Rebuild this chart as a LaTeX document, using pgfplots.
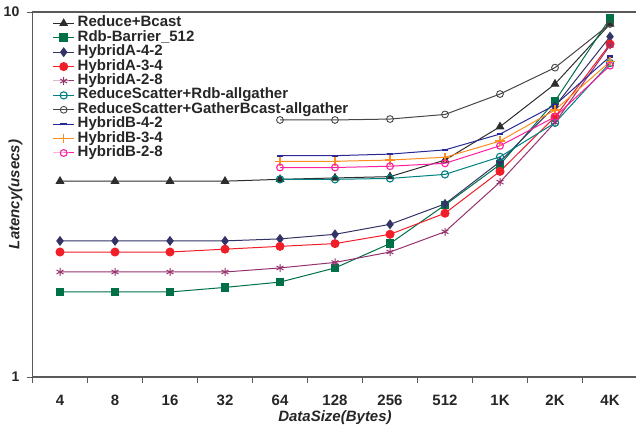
\documentclass[border=0pt]{standalone}
\usepackage{fontspec}
\setmainfont{Liberation Sans}
\usepackage{pgfplots}
\pgfplotsset{compat=1.18}

\definecolor{cBcast}{RGB}{45,45,45}
\definecolor{cRdb}{RGB}{0,112,70}
\definecolor{cA42}{RGB}{51,51,102}
\definecolor{cA34}{RGB}{240,30,40}
\definecolor{cA28}{RGB}{150,50,110}
\definecolor{cRSrdb}{RGB}{0,128,128}
\definecolor{cRSgb}{RGB}{70,70,70}
\definecolor{cB42}{RGB}{40,40,150}
\definecolor{cB34}{RGB}{255,140,30}
\definecolor{cB28}{RGB}{255,30,160}
\definecolor{cAxis}{RGB}{90,90,90}

\begin{document}
\begin{tikzpicture}
\begin{axis}[
  at={(0pt,0pt)}, anchor=south west,
  scale only axis, width=605pt, height=365pt,
  xmin=-0.5, xmax=10.5,
  ymode=log, ymin=1, ymax=10,
  axis lines=left,
  axis line style={-, draw=cAxis, line width=1.1pt},
  tick align=outside,
  xtick={0,...,10},
  xticklabels={4,8,16,32,64,128,256,512,1K,2K,4K},
  major x tick style={draw=none},
  minor xtick={-0.5,0.5,...,10.5},
  minor x tick style={draw=cAxis, line width=0.9pt},
  minor tick length=6pt,
  ytick={1,10}, yticklabels={1,10},
  minor ytick={},
  minor y tick style={draw=none},
  major y tick style={draw=cAxis, line width=0.9pt},
  major tick length=5pt,
  ymajorgrids,
  major grid style={draw=cAxis, line width=1.1pt},
  /pgf/number format/assume math mode=true,
  xticklabel style={font=\fontsize{15}{15}\selectfont\bfseries, color=black!85, anchor=center, yshift=-18pt},
  yticklabel style={font=\fontsize{14}{14}\selectfont\bfseries, color=black!85, anchor=east, inner sep=0pt, xshift=-8pt},
  xlabel={DataSize(Bytes)},
  ylabel={Latency(usecs)},
  xlabel style={font=\fontsize{15}{15}\selectfont\bfseries\itshape, color=black!85, at={(axis description cs:0.5,-41/365)}, anchor=center},
  ylabel style={font=\fontsize{15}{15}\selectfont\bfseries\itshape, color=black!85, at={(axis description cs:-17/605,0.5)}, anchor=center, rotate=0},
  legend cell align=left,
  legend style={
    at={(axis description cs:20/605,1-4/365)}, anchor=north west,
    draw=none, fill=none, inner sep=0pt, row sep=0pt,
    font=\fontsize{15}{15}\selectfont\bfseries,
    text=black!85,
    nodes={inner sep=0pt, text height=10.7pt, text depth=3.7pt},
    /tikz/every odd column/.append style={column sep=3pt},
  },
  legend image code/.code={\draw[mark repeat=2,mark phase=2,#1] plot coordinates {(0pt,0pt) (10.5pt,0pt) (21pt,0pt)};},
  every axis plot/.append style={line width=1pt},
  clip=false,
]

\addplot[cBcast, mark=triangle*, mark size=4.2pt, mark options={fill=cBcast}]
  coordinates {(0,3.44) (1,3.44) (2,3.44) (3,3.44) (4,3.48) (5,3.51) (6,3.54) (7,3.93) (8,4.85) (9,6.35) (10,9.27)};
\addlegendentry{Reduce+Bcast}

\addplot[cRdb, mark=square*, mark size=3.8pt, mark options={fill=cRdb}]
  coordinates {(0,1.71) (1,1.71) (2,1.71) (3,1.76) (4,1.82) (5,1.99) (6,2.32) (7,2.96) (8,3.82) (9,5.70) (10,9.61)};
\addlegendentry{Rdb-Barrier\_512}

\addplot[cA42, mark=diamond*, mark size=4.2pt, mark options={fill=cA42}]
  coordinates {(0,2.36) (1,2.36) (2,2.36) (3,2.36) (4,2.39) (5,2.46) (6,2.62) (7,2.98) (8,3.89) (9,5.52) (10,8.56)};
\addlegendentry{HybridA-4-2}

\addplot[cA34, mark=*, mark size=4pt, mark options={fill=cA34}]
  coordinates {(0,2.20) (1,2.20) (2,2.20) (3,2.24) (4,2.28) (5,2.32) (6,2.46) (7,2.81) (8,3.66) (9,5.16) (10,8.17)};
\addlegendentry{HybridA-3-4}

\addplot[cA28, mark=asterisk, mark size=4pt]
  coordinates {(0,1.94) (1,1.94) (2,1.94) (3,1.94) (4,1.99) (5,2.06) (6,2.20) (7,2.50) (8,3.42) (9,4.98) (10,8.10)};
\addlegendentry{HybridA-2-8}

\addplot[cRSrdb, mark=o, mark size=3.6pt, mark options={fill=white, line width=1.1pt}]
  coordinates {(4,3.48) (5,3.48) (6,3.50) (7,3.59) (8,4.01) (9,4.97) (10,7.25)};
\addlegendentry{ReduceScatter+Rdb-allgather}

\addplot[cRSgb, mark=o, mark size=3.4pt, mark options={fill=white, line width=0.9pt}]
  coordinates {(4,5.06) (5,5.06) (6,5.09) (7,5.24) (8,5.96) (9,7.04) (10,9.27)};
\addlegendentry{ReduceScatter+GatherBcast-allgather}

\addplot[cB42, mark=-, mark size=3.4pt, mark options={line width=2.2pt}]
  coordinates {(4,4.04) (5,4.04) (6,4.08) (7,4.19) (8,4.63) (9,5.56) (10,7.55)};
\addlegendentry{HybridB-4-2}

\addplot[cB34, mark=+, mark size=4.6pt, mark options={line width=1.2pt}]
  coordinates {(4,3.90) (5,3.90) (6,3.93) (7,4.00) (8,4.43) (9,5.39) (10,7.31)};
\addlegendentry{HybridB-3-4}

\addplot[cB28, mark=o, mark size=3.4pt, mark options={fill=white, line width=1.1pt}]
  coordinates {(4,3.75) (5,3.75) (6,3.78) (7,3.85) (8,4.30) (9,5.16) (10,7.13)};
\addlegendentry{HybridB-2-8}

\end{axis}
\pgfresetboundingbox
\useasboundingbox (-32.5pt,-53pt) rectangle (603.5pt,377pt);
\end{tikzpicture}
\end{document}
